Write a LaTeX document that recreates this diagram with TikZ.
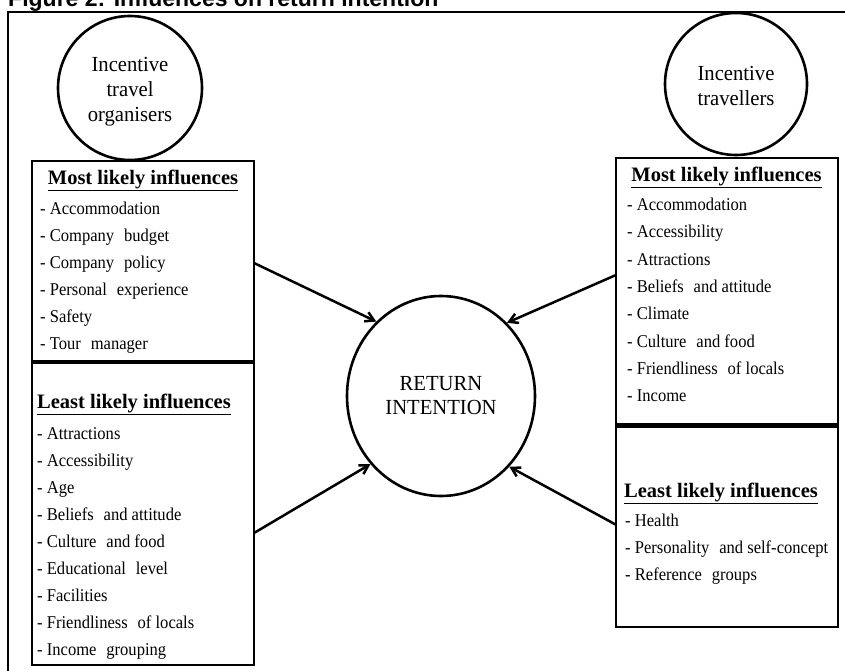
\documentclass[tikz,border=0pt]{standalone}
\usepackage{fontspec}
\setmainfont{Liberation Serif}
\newfontfamily\titlefont{Liberation Sans}
\newfontfamily\itemfont[FakeStretch=0.92]{Liberation Serif}
\newfontfamily\circfont[FakeStretch=0.96]{Liberation Serif}
\usetikzlibrary{arrows.meta,shapes.geometric}
\newcommand{\wsp}{\hspace*{0.55em}}
\begin{document}
\begin{tikzpicture}[x=1pt,y=-1pt,
  frame/.style={line width=2pt},
  circ/.style={circle,draw,line width=2.6pt,inner sep=0pt,minimum size=#1},
  ctext/.style={align=center,inner sep=0pt,font=\circfont\fontsize{21.5}{25}\selectfont},
  box/.style={draw,line width=2.8pt,rectangle,inner sep=0pt,outer sep=0pt,anchor=north west,minimum width=222pt},
  head/.style={font=\fontsize{20.5}{24}\selectfont\bfseries,inner sep=0pt},
  item/.style={font=\itemfont\fontsize{18}{27}\selectfont,inner sep=0pt,anchor=base west},
  arr/.style={line width=2.5pt,-{Straight Barb[angle=60:10pt]}}
]
\useasboundingbox (0,0) rectangle (845,671);
\clip (0,0) rectangle (845,671);
% title (cropped at top)
\node[anchor=base west,inner sep=0pt,font=\titlefont\bfseries\fontsize{23}{23}\selectfont] (title) at (8,6.3) {Figure 2: Influences on return intention};
% frame
\draw[frame] (8,680) -- (8,12) -- (860,12);
% circles
\node[circ=144pt] (org) at (130,88) {};
\node[ctext] (orgt) at (130,92) {Incentive\\travel\\organisers};
\node[circ=142pt] (trav) at (736,84) {};
\node[ctext] (travt) at (736,85.5) {Incentive\\travellers};
\node[ellipse,draw,line width=2.6pt,inner sep=0pt,minimum width=188pt,minimum height=200pt,align=center,font=\circfont\fontsize{21.5}{24}\selectfont] (ri) at (441,396) {RETURN\\INTENTION};
% boxes
\node[box,minimum height=200pt] (lm) at (32,161) {};
\node[box,minimum height=302pt] (ll) at (32,363) {};
\node[box,minimum height=266pt] (rm) at (616,158) {};
\node[box,minimum height=200.5pt] (rl) at (616,426.5) {};
% headers
\node[head,anchor=base] (lmh) at (143,184.5) {\underline{Most likely influences}};
\node[head,anchor=base west] (llh) at (37,408.5) {\underline{Least likely influences}};
\node[head,anchor=base] (rmh) at (726.5,181.5) {\underline{Most likely influences}};
\node[head,anchor=base west] (rlh) at (624,497.3) {\underline{Least likely influences}};
% items
\foreach \t [count=\i] in {- Accommodation,- Company\wsp budget,- Company\wsp policy,- Personal\wsp experience,- Safety,- Tour\wsp manager}
  \node[item] (lm\i) at (40,{214.3+27*(\i-1)}) {\t};
\foreach \t [count=\i] in {- Attractions,- Accessibility,- Age,- Beliefs\wsp and attitude,- Culture\wsp and food,- Educational\wsp level,- Facilities,- Friendliness\wsp of locals,- Income\wsp grouping}
  \node[item] (ll\i) at (37,{439+27.1*(\i-1)}) {\t};
\foreach \t [count=\i] in {- Accommodation,- Accessibility,- Attractions,- Beliefs\wsp and attitude,- Climate,- Culture\wsp and food,- Friendliness\wsp of locals,- Income}
  \node[item] (rm\i) at (627,{210.6+27.3*(\i-1)}) {\t};
\foreach \t [count=\i] in {- Health,- Personality\wsp and self-concept,- Reference\wsp groups}
  \node[item] (rl\i) at (625,{526.7+27*(\i-1)}) {\t};
% arrows
\draw[arr] ([yshift=-2pt]lm.east) -- (ri.131);
\draw[arr] ([yshift=16pt]rm.west) -- (ri.48);
\draw[arr] ([yshift=-19pt]ll.east) -- (ri.224);
\draw[arr] ([yshift=2pt]rl.west) -- (ri.314);
\end{tikzpicture}
\end{document}
